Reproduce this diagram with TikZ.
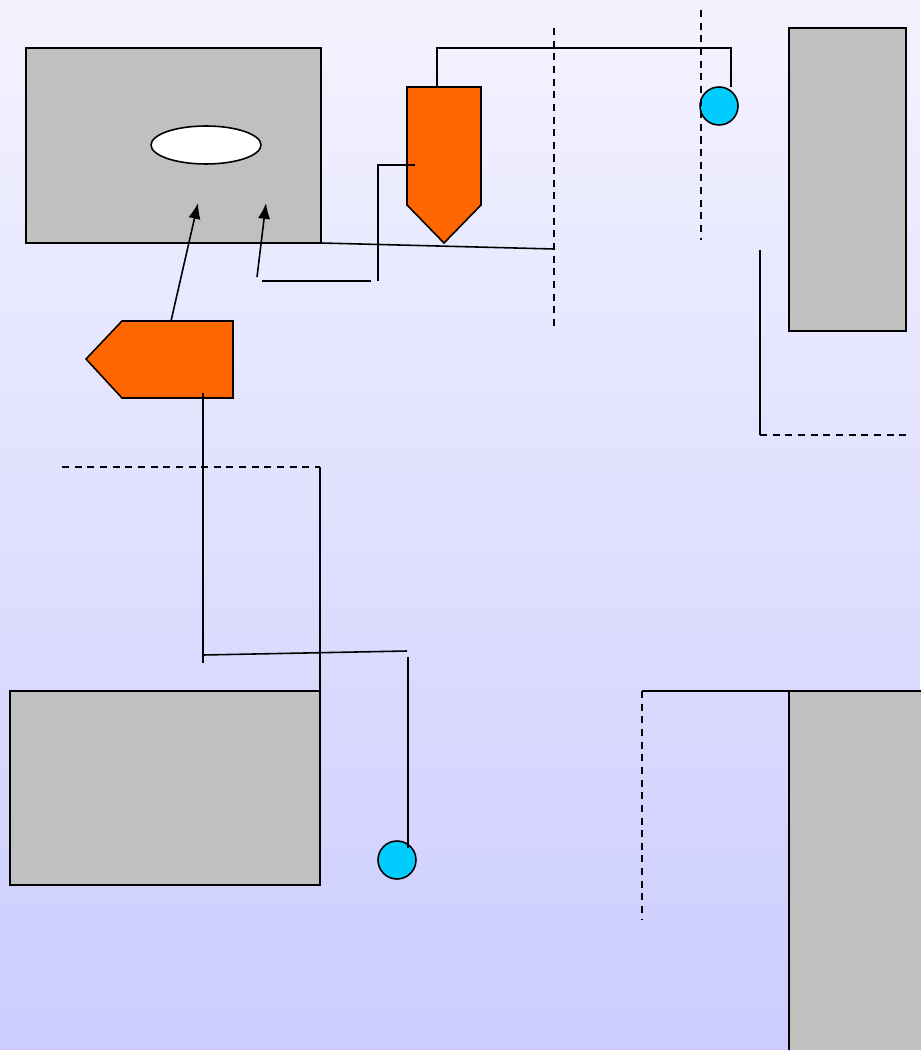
\documentclass[tikz,border=0pt]{standalone}
\usetikzlibrary{arrows.meta,shapes}
\definecolor{pumporange}{HTML}{FF6600}
\definecolor{floatcyan}{HTML}{00CCFF}
\definecolor{wallgray}{HTML}{C0C0C0}

\begin{document}
\begin{tikzpicture}[x=0.02cm,y=-0.02cm]
	\tikzset{wall/.style = {draw,fill=wallgray,line width=0.9pt}}
	\tikzset{pump/.style = {draw,fill=pumporange,line width=0.9pt}}
	\tikzset{ball/.style = {shape=circle,draw,fill=floatcyan,line width=0.9pt,minimum size=0.76cm,inner sep=0}}
	\tikzset{pipe/.style = {line width=0.9pt}}
	\tikzset{limit/.style = {line width=0.9pt,dash pattern=on 4pt off 3.2pt}}
	\tikzset{flow/.style = {line width=0.9pt,-{Latex[length=9pt,width=7pt]}}}

	% background
	\useasboundingbox (0,0) rectangle (920,1050);
	\shade[top color={rgb,255:red,243;green,243;blue,255},bottom color={rgb,255:red,204;green,204;blue,255}] (0,0) rectangle (920,1050);

	% walls
	\draw[wall] (26,48) rectangle (321,243);
	\draw[wall] (789,28) rectangle (906,331);
	\draw[wall] (10,691) rectangle (320,885);
	\draw[wall] (789,691) rectangle (925,1055);
	\node[shape=ellipse,draw,fill=white,line width=0.9pt,minimum width=2.2cm,minimum height=0.76cm,inner sep=0] (lens) at (206,145) {};

	% pumps
	\draw[pump] (407,87) -- (481,87) -- (481,205) -- (444,243) -- (407,205) -- cycle;
	\draw[pump] (122,321) -- (233,321) -- (233,398) -- (122,398) -- (86,359) -- cycle;
	\coordinate (p1top) at (437,87);
	\coordinate (p1in) at (415,165);
	\coordinate (p2top) at (171,321);
	\coordinate (p2out) at (203,393);

	% floats
	\node[ball] (b1) at (719,106) {};
	\node[ball] (b2) at (397,860) {};

	% pipes
	\coordinate (c1) at (437,48);
	\coordinate (c2) at (731,48);
	\coordinate (c3) at (731,87);
	\draw[pipe] (p1top) -- (c1) -- (c2) -- (c3);
	\draw[pipe] (p1in) -- (378,165) -- (378,281);
	\draw[pipe] (262,281) -- (371,281);
	\draw[pipe] (321,243) -- (554,249);
	\draw[pipe] (p2out) -- (203,663);
	\draw[pipe] (203,655) -- (407,651);
	\draw[pipe] (408,657) -- (408,848);
	\draw[pipe] (320,467) -- (320,691);
	\draw[pipe] (760,250) -- (760,435);
	\draw[pipe] (642,691) -- (789,691);

	% arrows
	\draw[flow] (p2top) -- (198,203);
	\draw[flow] (257,277) -- (266,203);

	% limits
	\draw[limit] (554,28) -- (554,328);
	\draw[limit] (701,10) -- (701,240);
	\draw[limit] (62,467) -- (320,467);
	\draw[limit] (760,435) -- (906,435);
	\draw[limit] (642,691) -- (642,920);
\end{tikzpicture}
\end{document}
